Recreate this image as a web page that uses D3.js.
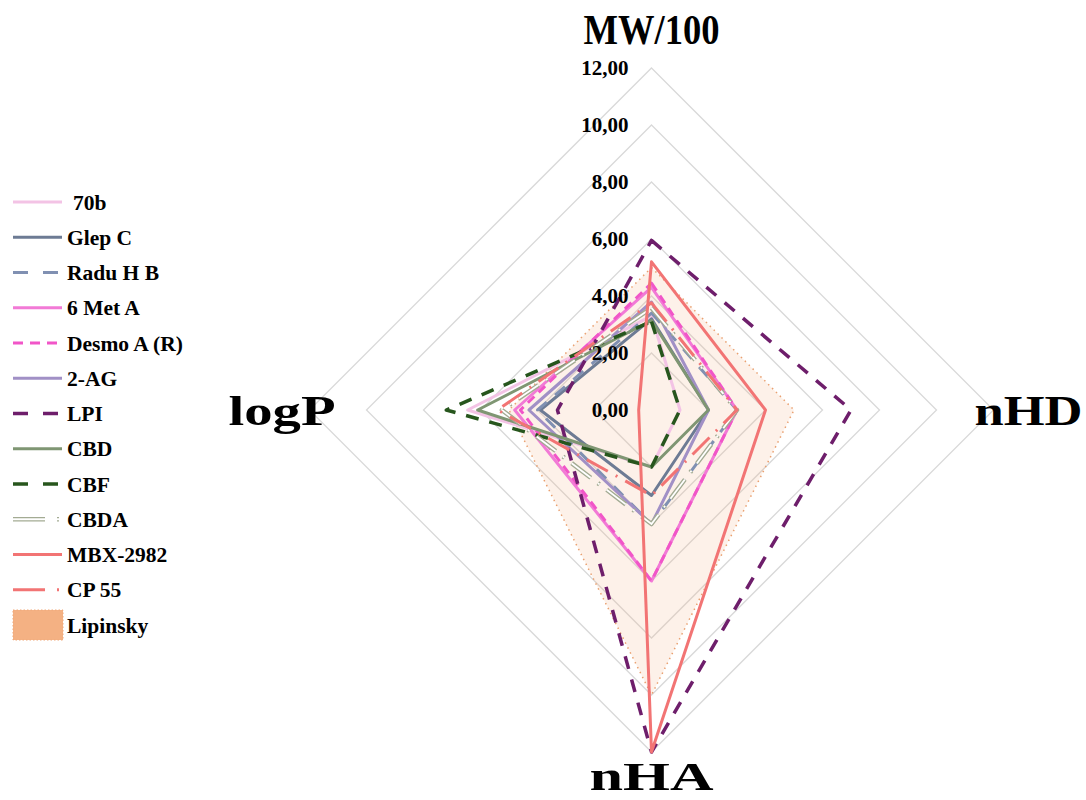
<!DOCTYPE html>
<html>
<head>
<meta charset="utf-8">
<script src="https://cdn.jsdelivr.net/npm/d3@7"></script>
<style>
  html, body { margin: 0; padding: 0; background: #ffffff; }
  svg text { font-family: "Liberation Serif", "Times New Roman", serif; font-weight: bold; fill: #000; }
</style>
</head>
<body>
<svg id="chart" width="1086" height="800"></svg>
<script>
// Radar axes, clockwise from the top
const axes = ["MW/100", "nHD", "nHA", "logP"];
const tickValues = [0, 2, 4, 6, 8, 10, 12];
const tickLabels = ["0,00", "2,00", "4,00", "6,00", "8,00", "10,00", "12,00"];

// Series values in axis order: MW/100, nHD, nHA, logP
const names = ["70b", "Glep C", "Radu H B", "6 Met A", "Desmo A (R)", "2-AG", "LPI",
               "CBD", "CBF", "CBDA", "MBX-2982", "CP 55"];
const v70b    = [3.3, 1, 2, 6.45];
const glepC   = [3.2, 2, 3, 3.9];
const raduHB  = [3.4, 3, 4, 4.0];
const met6A   = [4.3, 3, 6, 4.8];
const desmoA  = [4.45, 3, 6, 4.6];
const ag2     = [3.79, 2, 4, 4.3];
const lpi     = [5.95, 7, 12, 3.3];
const cbd     = [3.14, 2, 2, 6.1];
const cbf     = [3.1, 1, 2, 7.2];
const cbda    = [3.58, 3, 4, 5.25];
const mbx     = [5.2, 4, 12, 0.45];
const cp55    = [3.76, 3, 3, 5.4];
const lipinsky = [5, 5, 10, 5];
const lipinskyName = "Lipinsky";

const seriesValues = [v70b, glepC, raduHB, met6A, desmoA, ag2, lpi, cbd, cbf, cbda, mbx, cp55];

// Line styles per series
const styles = [
  { color: "#f3c3e5", width: 3, dash: null },
  { color: "#6d7b94", width: 3, dash: null },
  { color: "#8090b2", width: 3, dash: "13,11" },
  { color: "#f27ad6", width: 3, dash: null },
  { color: "#f155c8", width: 3, dash: "9,6" },
  { color: "#a190c6", width: 3, dash: null },
  { color: "#6e1e6b", width: 3.5, dash: "13,11" },
  { color: "#7f9673", width: 3, dash: null },
  { color: "#27561d", width: 3.5, dash: "13,11" },
  { color: "#a3ab93", width: 4.5, dash: "24,9,2,9", double: true },
  { color: "#f27474", width: 3, dash: null },
  { color: "#f27474", width: 3, dash: "24,9,2,9" }
];

const svg = d3.select("#chart");
const cx = 651.5, cy = 410, R = 342;
const r = d3.scaleLinear().domain([0, 12]).range([0, R]);
const angle = d3.scalePoint().domain(axes).range([0, 2 * Math.PI * 3 / 4]);

const g = svg.append("g").attr("transform", `translate(${cx},${cy})`);

const radial = d3.lineRadial()
  .angle((d, i) => angle(axes[i]))
  .radius(d => r(d))
  .curve(d3.curveLinearClosed);

// Grid rings
g.selectAll("path.grid")
  .data(tickValues.filter(t => t > 0))
  .join("path")
  .attr("class", "grid")
  .attr("d", t => radial(axes.map(() => t)))
  .attr("fill", "none")
  .attr("stroke", "#d9d9d9")
  .attr("stroke-width", 1.3);

// Lipinsky reference area
g.append("path")
  .attr("d", radial(lipinsky))
  .attr("fill", "#f4b183")
  .attr("fill-opacity", 0.18)
  .attr("stroke", "#e9a070")
  .attr("stroke-width", 1.5)
  .attr("stroke-dasharray", "1.5,4");

// Series lines
seriesValues.forEach((vals, i) => {
  const s = styles[i];
  const p = g.append("path")
    .attr("d", radial(vals))
    .attr("fill", "none")
    .attr("stroke", s.color)
    .attr("stroke-width", s.width)
    .attr("stroke-linejoin", "round");
  if (s.dash) p.attr("stroke-dasharray", s.dash);
  if (s.double) {
    g.append("path")
      .attr("d", radial(vals))
      .attr("fill", "none")
      .attr("stroke", "#ffffff")
      .attr("stroke-width", 1.8)
      .attr("stroke-dasharray", s.dash);
  }
});

// Tick labels along the top axis
g.selectAll("text.tick")
  .data(tickValues)
  .join("text")
  .attr("class", "tick")
  .attr("x", -23)
  .attr("y", t => -r(t))
  .attr("dy", "0.35em")
  .attr("text-anchor", "end")
  .style("font-size", "21px")
  .text((t, i) => tickLabels[i]);

// Axis titles
const titlePos = [
  { x: 0, y: -366, anchor: "middle", w: 136, size: 42 },
  { x: 323, y: 15, anchor: "start", w: 108, size: 42 },
  { x: 0, y: 380, anchor: "middle", w: 124, size: 40 },
  { x: -316, y: 15, anchor: "end", w: 107, size: 42 }
];
g.selectAll("text.axis")
  .data(axes)
  .join("text")
  .attr("class", "axis")
  .attr("x", (a, i) => titlePos[i].x)
  .attr("y", (a, i) => titlePos[i].y)
  .attr("text-anchor", (a, i) => titlePos[i].anchor)
  .attr("textLength", (a, i) => titlePos[i].w)
  .attr("lengthAdjust", "spacingAndGlyphs")
  .style("font-size", (a, i) => titlePos[i].size + "px")
  .text(a => a);

// Legend
const legend = svg.append("g").attr("transform", "translate(13,202)");
const rowH = 35.25;
names.forEach((n, i) => {
  const s = styles[i];
  const row = legend.append("g").attr("transform", `translate(0,${i * rowH})`);
  const ln = row.append("line")
    .attr("x1", 0).attr("x2", 49).attr("y1", 0).attr("y2", 0)
    .attr("stroke", s.color)
    .attr("stroke-width", s.width);
  if (s.dash) ln.attr("stroke-dasharray", s.dash === "24,9,2,9" ? "32,12,2,12" : (s.dash === "9,6" ? "10,7" : "15,15"));
  if (s.double) {
    row.append("line")
      .attr("x1", 0).attr("x2", 49).attr("y1", 0).attr("y2", 0)
      .attr("stroke", "#ffffff").attr("stroke-width", 1.8)
      .attr("stroke-dasharray", "32,12,2,12");
  }
  row.append("text")
    .attr("x", n === "70b" ? 60 : 54)
    .attr("y", 0)
    .attr("dy", "0.35em")
    .style("font-size", "21.5px")
    .text(n);
});
const lipRow = legend.append("g").attr("transform", `translate(0,${names.length * rowH})`);
lipRow.append("rect")
  .attr("x", 0).attr("y", -15).attr("width", 50).attr("height", 30)
  .attr("fill", "#f4b183")
  .attr("stroke", "#f0a878").attr("stroke-width", 1).attr("stroke-dasharray", "1.5,2");
lipRow.append("text")
  .attr("x", 54).attr("y", 0).attr("dy", "0.35em")
  .style("font-size", "21.5px")
  .text(lipinskyName);
</script>
</body>
</html>
